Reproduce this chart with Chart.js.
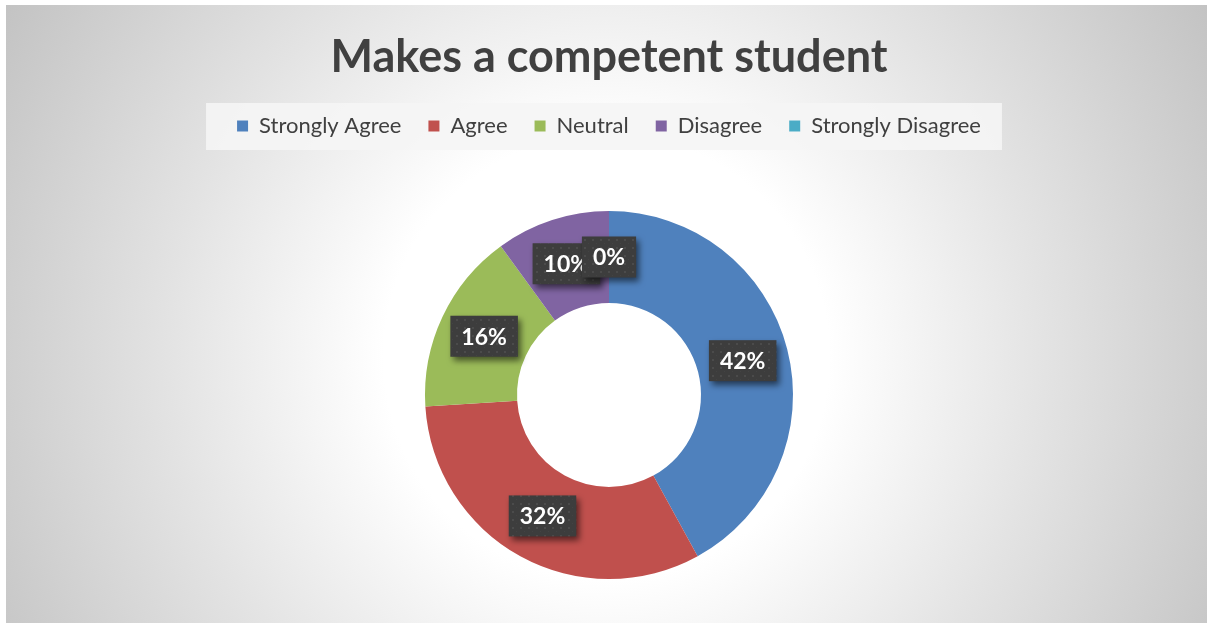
<!DOCTYPE html>
<html>
<head>
<meta charset="utf-8">
<script src="https://cdn.jsdelivr.net/npm/chart.js@4.4.0/dist/chart.umd.min.js"></script>
<style>
  html, body { margin: 0; padding: 0; background: #fff; }
  #wrap {
    position: absolute; left: 6px; top: 5px; width: 1201px; height: 618px;
    background: radial-gradient(circle farthest-corner at 50% 57%, #ffffff 0%, #ffffff 32%, #e3e3e3 63%, #c3c3c3 100%);
  }
  canvas { display: block; }
</style>
</head>
<body>
<div id="wrap"><canvas id="myChart" width="1201" height="618"></canvas></div>
<script>
const chartTitle = 'Makes a competent student';
const labels = ['Strongly Agree', 'Agree', 'Neutral', 'Disagree', 'Strongly Disagree'];
const percents = [42, 32, 16, 10, 0];
const colors = ['#4F81BD', '#C0504D', '#9BBB59', '#8064A2', '#4BACC6'];

// dark dotted fill for the value boxes
function makeDotPattern(ctx) {
    const c = document.createElement('canvas');
    c.width = 8; c.height = 8;
    const p = c.getContext('2d');
    p.fillStyle = '#3d3d3d';
    p.fillRect(0, 0, 8, 8);
    p.fillStyle = '#4b4b4b';
    p.fillRect(2, 2, 2, 2);
    p.fillStyle = '#434343';
    p.fillRect(6, 6, 1, 1);
    return ctx.createPattern(c, 'repeat');
}

// push the ring further down below the legend
const legendGap = {
    id: 'legendGap',
    beforeInit(chart) {
        const origFit = chart.legend.fit;
        chart.legend.fit = function () {
            origFit.call(this);
            this.height += 26;
        };
    }
};

// light band behind the legend row
const legendBand = {
    id: 'legendBand',
    beforeDraw(chart) {
        const boxes = chart.legend && chart.legend.legendHitBoxes;
        if (!boxes || !boxes.length) return;
        const first = boxes[0], last = boxes[boxes.length - 1];
        const cy = first.top + first.height / 2;
        const ctx = chart.ctx;
        ctx.save();
        ctx.fillStyle = 'rgba(245,245,245,0.9)';
        ctx.fillRect(first.left - 31, cy - 23, (last.left + last.width + 21) - (first.left - 31), 47);
        ctx.restore();
    }
};

// percentage boxes in the middle of each ring segment
const valueBoxes = {
    id: 'valueBoxes',
    afterDatasetsDraw(chart) {
        const ctx = chart.ctx;
        const meta = chart.getDatasetMeta(0);
        const pattern = makeDotPattern(ctx);
        ctx.save();
        ctx.font = 'bold 23px Lato';
        ctx.textAlign = 'center';
        ctx.textBaseline = 'middle';
        meta.data.forEach((arc, i) => {
            const p = arc.getProps(['x', 'y', 'startAngle', 'endAngle', 'innerRadius', 'outerRadius'], true);
            const mid = (p.startAngle + p.endAngle) / 2;
            const r = (p.innerRadius + p.outerRadius) / 2;
            const cx = p.x + Math.cos(mid) * r;
            const cy = p.y + Math.sin(mid) * r;
            const text = percents[i] + '%';
            const w = ctx.measureText(text).width + 22;
            const h = 41;
            ctx.shadowColor = 'rgba(0,0,0,0.55)';
            ctx.shadowBlur = 6;
            ctx.shadowOffsetX = 3;
            ctx.shadowOffsetY = 4;
            ctx.fillStyle = pattern;
            ctx.fillRect(cx - w / 2, cy - h / 2, w, h);
            ctx.shadowColor = 'transparent';
            ctx.fillStyle = '#ffffff';
            ctx.fillText(text, cx, cy + 1);
        });
        ctx.restore();
    }
};

function drawChart() {
    const ctx = document.getElementById('myChart').getContext('2d');
    new Chart(ctx, {
        type: 'doughnut',
        data: {
            labels: labels,
            datasets: [{
                data: percents,
                backgroundColor: colors,
                borderWidth: 0,
                hoverOffset: 0
            }]
        },
        options: {
            responsive: false,
            animation: false,
            radius: 184,
            cutout: '50%',
            layout: { padding: { left: 5, bottom: 6 } },
            plugins: {
                title: {
                    display: true,
                    text: chartTitle,
                    color: '#404040',
                    font: { family: 'Lato', size: 45, weight: 'bold' },
                    padding: { top: 25, bottom: 4 }
                },
                legend: {
                    position: 'top',
                    labels: {
                        color: '#404040',
                        font: { family: 'Lato', size: 22 },
                        boxWidth: 11,
                        boxHeight: 11,
                        padding: 27
                    }
                },
                tooltip: { enabled: false }
            }
        },
        plugins: [legendGap, legendBand, valueBoxes]
    });
}

Promise.all([
    document.fonts.load('bold 45px Lato'),
    document.fonts.load('22px Lato')
]).then(drawChart, drawChart);
</script>
</body>
</html>
